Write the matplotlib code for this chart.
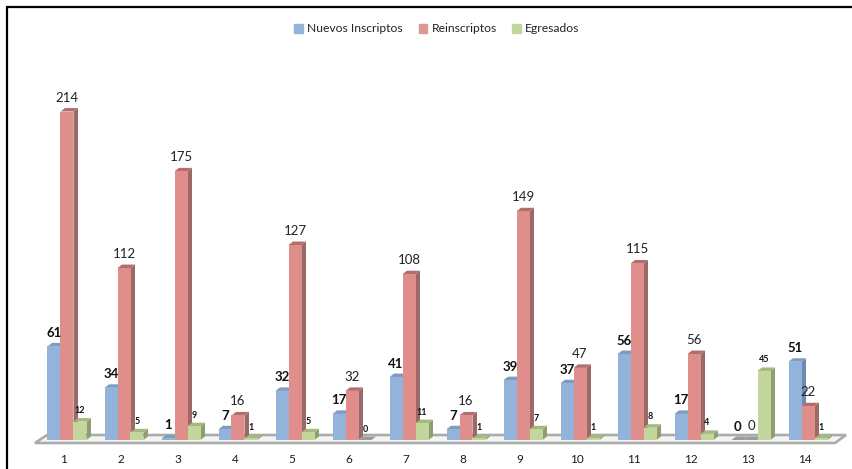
import matplotlib
matplotlib.use("Agg")
import matplotlib.pyplot as plt
from matplotlib.patches import Polygon, Patch, Rectangle
import numpy as np

plt.rcParams["font.family"] = ["Lato", "DejaVu Sans"]

categories = ["1", "2", "3", "4", "5", "6", "7", "8", "9", "10", "11", "12", "13", "14"]
nuevos = [61, 34, 1, 7, 32, 17, 41, 7, 39, 37, 56, 17, 0, 51]
reinscriptos = [214, 112, 175, 16, 127, 32, 108, 16, 149, 47, 115, 56, 0, 22]
egresados = [12, 5, 9, 1, 5, 0, 11, 1, 7, 1, 8, 4, 45, 1]

W, H = 853, 469
fig = plt.figure(figsize=(W / 100, H / 100), dpi=100)

# axes runs over the plot area, pixel box 35..835 wide and 60..440 tall
left, right, top, bottom = 35, 835, 60, 440
ax = fig.add_axes([left / W, 1 - bottom / H, (right - left) / W, (bottom - top) / H])

px_x = 1 / 57.0  # one pixel in x data units
px_y = 1 / 1.535  # one pixel in y data units
ax.set_xlim(1 - 29 * px_x, 1 + (right - 64) * px_x)
ax.set_ylim(0, (bottom - top) * px_y)
ax.axis("off")

x = np.arange(1, 15)
cx = x + 3 * px_x  # bars sit a little right of the tick labels
bw = 13 * px_x
dx = 4.5 * px_x
dy = 3.5 * px_y

# floor
fx0, fx1 = 1 - 29 * px_x, 14 + 30 * px_x
floor = Polygon(
    [(fx0, -3 * px_y), (fx1, -3 * px_y), (fx1 + 11 * px_x, 5 * px_y), (fx0 + 12 * px_x, 5 * px_y)],
    closed=True, facecolor="#f4f5f3", edgecolor="#a9aca9", linewidth=1.9, zorder=1, clip_on=False,
)
ax.add_patch(floor)


def bars_3d(xs, vals, front, side, topc, z):
    ax.bar(xs, vals, width=bw, bottom=0, color=front, linewidth=0, zorder=z + 0.2)
    for xi, v in zip(xs, vals):
        r = xi + bw / 2
        l = xi - bw / 2
        c = "#9a9c98" if v == 0 else topc
        ax.add_patch(Polygon([(r, 0), (r + dx, dy), (r + dx, v + dy), (r, v)], closed=True,
                             facecolor=side if v > 0 else c, edgecolor="none", zorder=z))
        ax.add_patch(Polygon([(l, v), (r, v), (r + dx, v + dy), (l + dx, v + dy)], closed=True,
                             facecolor=c, edgecolor="none", zorder=z + 0.1))


bars_3d(cx - bw, nuevos, "#93b3da", "#6f8cae", "#7f9bbd", 2)
bars_3d(cx, reinscriptos, "#e08e8c", "#9b6a68", "#b06f6c", 4)
bars_3d(cx + bw, egresados, "#c3d69b", "#8e9e70", "#a6b77f", 6)

for i, c in enumerate(categories):
    ax.text(x[i], -19 * px_y, c, ha="center", va="center", fontsize=8.5, color="#1a1a1a", clip_on=False)

# value labels, same order as the bars
for i in range(14):
    ax.text(cx[i] - bw, nuevos[i] + 13.5 * px_y, str(nuevos[i]), ha="center", va="center",
            fontsize=9.5, fontweight="bold", color="#111111", zorder=10)
    ax.text(cx[i], reinscriptos[i] + 14 * px_y, str(reinscriptos[i]), ha="center", va="center",
            fontsize=9.5, color="#222222", zorder=10)
    ax.text(cx[i] + bw, egresados[i] + 11 * px_y, str(egresados[i]), ha="center", va="center",
            fontsize=6.5, fontweight="bold", color="#111111", zorder=10)

handles = [Patch(color="#93b3da", label="Nuevos Inscriptos"),
           Patch(color="#dd9795", label="Reinscriptos"),
           Patch(color="#c3d69b", label="Egresados")]
fig.legend(handles=handles, loc="center", bbox_to_anchor=(437 / W, 1 - 29 / H), ncol=3, frameon=False,
           fontsize=8.7, handlelength=0.72, handleheight=0.72, handletextpad=0.35, columnspacing=1.3,
           labelcolor="#222222")

fig.add_artist(Rectangle((7 / W, -0.02), (W + 10) / W, 1 - 7 / H + 0.02, transform=fig.transFigure,
                         fill=False, edgecolor="black", linewidth=1.6))

fig.savefig("out.png", dpi=100)
